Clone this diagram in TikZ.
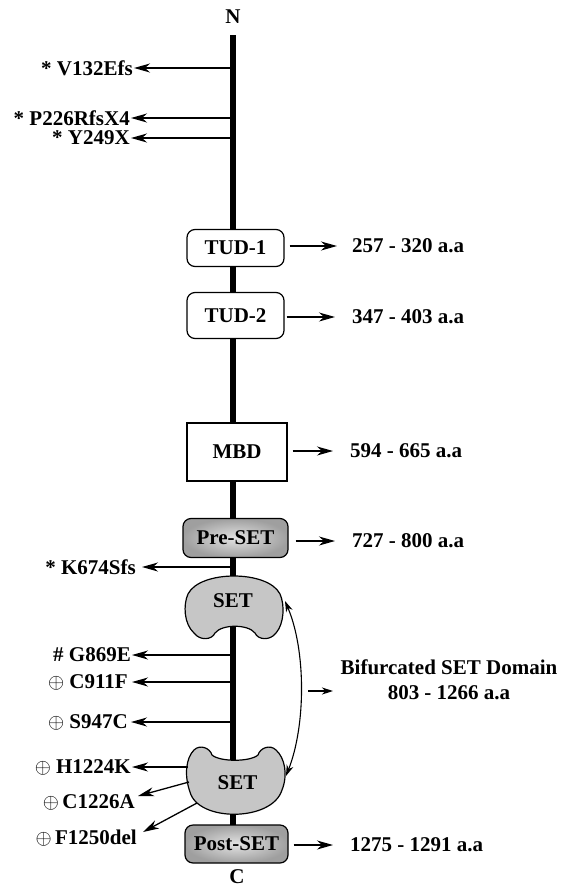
\documentclass[tikz,border=0pt]{standalone}
\usepackage{fontspec}
\setmainfont{Liberation Serif}
\usetikzlibrary{arrows.meta,shapes.misc}
\begin{document}
\begin{tikzpicture}[x=1pt,y=-1pt,
  lbl/.style={font=\fontsize{21}{25}\selectfont\bfseries, inner sep=1pt},
  dbox/.style={draw, line width=1.2pt, fill=white, rounded corners=8pt, minimum width=97pt, minimum height=37pt, lbl},
  sbox/.style={dbox, inner color=gray!22, outer color=gray!75},
  arr/.style={line width=1.3pt, -{Stealth[length=16pt,width=9pt,inset=5pt]}},
  sarr/.style={line width=1.1pt, -{Stealth[length=11pt,width=7pt,inset=3.5pt]}},
  darr/.style={line width=1.1pt, {Stealth[length=11pt,width=7pt,inset=3.5pt]}-{Stealth[length=11pt,width=7pt,inset=3.5pt]}},
  spine/.style={line width=6.5pt},
  setshape/.style={draw, line width=1.2pt, fill=gray!45}
]
\useasboundingbox (0,0) rectangle (562,887);

% spine
\coordinate (ntop) at (233,35);
\coordinate (cbot) at (233,826);
\draw[spine] (ntop) -- (cbot);

\node[lbl, anchor=base] (N) at (233,23) {N};
\node[lbl, anchor=base, inner sep=0pt] (C) at (237,883) {C};

% domains
\node[dbox] (tud1) at (235.5,248) {TUD-1};
\node[dbox, minimum height=46pt] (tud2) at (235.5,315.5) {TUD-2};
\node[dbox, rounded corners=0pt, minimum width=100pt, minimum height=58pt] (mbd) at (237,452) {MBD};
\node[sbox, minimum width=105pt, minimum height=39pt] (pre) at (235.5,538) {Pre-SET};
\node[sbox, minimum width=103pt, minimum height=38pt] (post) at (236.5,844) {Post-SET};

% SET shapes
\draw[setshape] (215,633) .. controls (222,624) and (248,624) .. (255,633)
  .. controls (258,640) and (270,641) .. (276,633)
  .. controls (284,624) and (285,605) .. (280,594)
  .. controls (268,570) and (200,570) .. (188,594)
  .. controls (183,605) and (184,624) .. (194,633)
  .. controls (200,641) and (212,640) .. (215,633) -- cycle;
\node[lbl] (set1) at (233,601) {SET};

\draw[setshape] (212,755) .. controls (220,762) and (250,762) .. (258,755)
  .. controls (260,748) and (270,744) .. (276,750)
  .. controls (285,758) and (288,775) .. (282,790)
  .. controls (272,822) and (198,822) .. (190,792)
  .. controls (184,775) and (186,758) .. (194,750)
  .. controls (200,744) and (210,748) .. (212,755) -- cycle;
\draw[spine] (233,740) -- (233,760);
\node[lbl] (set2) at (237.5,783) {SET};

% right-hand range labels
\node[lbl, anchor=west] (r1) at (351,246) {257 - 320 a.a};
\node[lbl, anchor=west] (r2) at (351,317) {347 - 403 a.a};
\node[lbl, anchor=west] (r3) at (349,451) {594 - 665 a.a};
\node[lbl, anchor=west] (r4) at (351,541) {727 - 800 a.a};
\node[lbl, anchor=west] (r5) at (349,845) {1275 - 1291 a.a};

\draw[arr] ([xshift=5pt,yshift=2pt]tud1.east) -- ([xshift=-14pt]r1.west);
\draw[arr] ([xshift=2pt,yshift=-1.5pt]tud2.east) -- ([xshift=-16pt]r2.west);
\draw[arr] ([xshift=5pt,yshift=1pt]mbd.east) -- ([xshift=-16pt]r3.west);
\draw[arr] ([xshift=7pt,yshift=-3pt]pre.east) -- ([xshift=-16pt]r4.west);
\draw[arr] ([xshift=5pt,yshift=-1pt]post.east) -- ([xshift=-16pt]r5.west);

% bifurcated SET domain
\coordinate (bt) at (285,601);
\coordinate (bb) at (286,776);
\draw[darr] (bb) .. controls (306,725) and (306,650) .. (bt);
\node[lbl, align=center] (bif) at (449,680) {Bifurcated SET Domain\\803 - 1266 a.a};
\coordinate (bs) at (308,691);
\coordinate (be) at (333,691);
\draw[sarr] (bs) -- (be);

% mutations
\coordinate (s1) at (233,68);
\coordinate (s2) at (233,118);
\coordinate (s3) at (233,138);
\coordinate (s4) at (233,567);
\coordinate (s5) at (233,655);
\coordinate (s6) at (233,682);
\coordinate (s7) at (233,722);
\coordinate (s8) at (188,767);
\coordinate (s9) at (189,782);
\coordinate (s10) at (197,803);

\node[lbl, anchor=east] (m1) at (134,68) {* V132Efs};
\node[lbl, anchor=east] (m2) at (131,118) {* P226RfsX4};
\node[lbl, anchor=east] (m3) at (131,138) {* Y249X};
\node[lbl, anchor=east] (m4) at (137,567) {* K674Sfs};
\node[lbl, anchor=east] (m5) at (132,655) {\# G869E};
\node[lbl, anchor=east] (m6) at (129,682) {$\oplus$ C911F};
\node[lbl, anchor=east] (m7) at (129,722) {$\oplus$ S947C};
\node[lbl, anchor=east] (m8) at (132,767) {$\oplus$ H1224K};
\node[lbl, anchor=east] (m9) at (136,802) {$\oplus$\,C1226A};
\node[lbl, anchor=east] (m10) at (138,838) {$\oplus$\,F1250del};

\draw[arr] (s1) -- (m1.east);
\draw[arr] (s2) -- (m2.east);
\draw[arr] (s3) -- (m3.east);
\draw[arr] (s4) -- ([xshift=5pt]m4.east);
\draw[arr] (s5) -- (m5.east);
\draw[arr] (s6) -- ([xshift=3pt]m6.east);
\draw[arr] (s7) -- ([xshift=2pt]m7.east);
\draw[arr] (s8) -- (m8.east);
\draw[arr] (s9) -- ([xshift=2pt,yshift=6pt]m9.east);
\draw[arr] (s10) -- ([xshift=5pt,yshift=6pt]m10.east);
\end{tikzpicture}
\end{document}
